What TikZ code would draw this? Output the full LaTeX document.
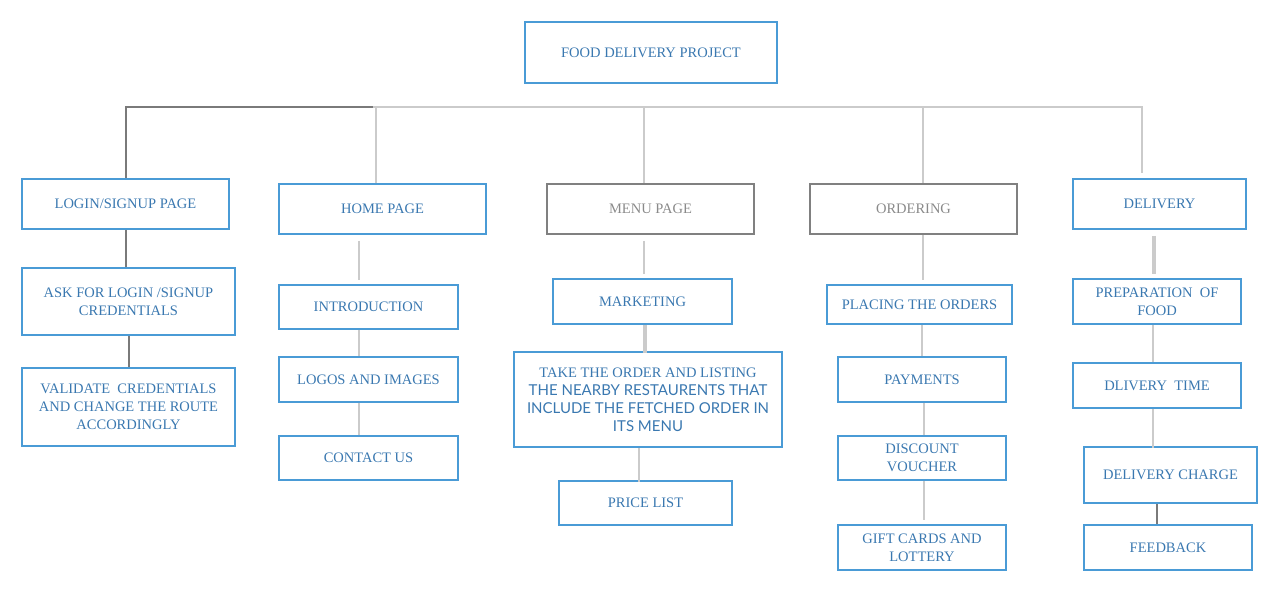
\documentclass[tikz,border=0pt]{standalone}
\usepackage{fontspec}
\setmainfont{Liberation Serif}
\newfontfamily\latof{Lato}
\definecolor{boxblue}{HTML}{4A9BD6}
\definecolor{txtblue}{HTML}{3A78B0}
\definecolor{boxgray}{HTML}{808080}
\definecolor{txtgray}{HTML}{8A8A8A}
\definecolor{lgray}{HTML}{CBCBCB}
\definecolor{dgray}{HTML}{7A7A7A}
\tikzset{
  box/.style={draw=boxblue, line width=2pt, text=txtblue, align=center, inner sep=0pt,
    font=\fontsize{14.5}{18}\selectfont},
  graybox/.style={box, draw=boxgray, text=txtgray},
  lconn/.style={draw=lgray, line width=2.5pt},
  dconn/.style={draw=dgray, line width=2pt},
}
\begin{document}
\begin{tikzpicture}[x=1pt,y=-1pt]
\useasboundingbox (0,0) rectangle (1280,593);
% top level
\node[box, minimum width=252, minimum height=61] (root) at (651,52.5) {FOOD DELIVERY PROJECT};
\node[box, minimum width=207, minimum height=50] (login) at (125.5,204) {LOGIN/SIGNUP PAGE};
\node[box, minimum width=207, minimum height=50] (home) at (382.5,209) {HOME PAGE};
\node[graybox, minimum width=207, minimum height=50] (menu) at (650.5,209) {MENU PAGE};
\node[graybox, minimum width=207, minimum height=50] (ordering) at (913.5,209) {ORDERING};
\node[box, minimum width=173, minimum height=50] (delivery) at (1159.5,204) {DELIVERY};
% login column
\node[box, minimum width=213, minimum height=67] (ask) at (128.5,301.5) {ASK FOR LOGIN /SIGNUP\\CREDENTIALS};
\node[box, minimum width=213, minimum height=78] (validate) at (128.5,407) {VALIDATE\ \ CREDENTIALS\\AND CHANGE THE ROUTE\\ACCORDINGLY};
% home column
\node[box, minimum width=179, minimum height=44] (intro) at (368.5,307) {INTRODUCTION};
\node[box, minimum width=179, minimum height=45] (logos) at (368.5,379.5) {LOGOS AND IMAGES};
\node[box, minimum width=179, minimum height=44] (contact) at (368.5,458) {CONTACT US};
% menu column
\node[box, minimum width=179, minimum height=45] (marketing) at (642.5,301.5) {MARKETING};
\node[box, minimum width=268, minimum height=95] (take) at (648,399.5)
  {\fontsize{14.5}{20}\selectfont TAKE THE ORDER AND LISTING\\
   \latof\fontsize{15}{20}\selectfont THE NEARBY RESTAURENTS THAT\\
   \latof\fontsize{15}{20}\selectfont INCLUDE THE FETCHED ORDER IN\\
   \latof\fontsize{15}{20}\selectfont ITS MENU};
\node[box, minimum width=173, minimum height=44] (price) at (645.5,503) {PRICE LIST};
% ordering column
\node[box, minimum width=185, minimum height=39] (placing) at (919.5,304.5) {PLACING THE ORDERS};
\node[box, minimum width=168, minimum height=45] (payments) at (922,379.5) {PAYMENTS};
\node[box, minimum width=168, minimum height=44] (discount) at (922,458) {DISCOUNT\\VOUCHER};
\node[box, minimum width=168, minimum height=45] (gift) at (922,547.5) {GIFT CARDS AND\\LOTTERY};
% delivery column
\node[box, minimum width=168, minimum height=45] (prep) at (1157,301.5) {PREPARATION\ \ OF\\FOOD};
\node[box, minimum width=168, minimum height=45] (dtime) at (1157,385.5) {DLIVERY\ \ TIME};
\node[box, minimum width=173, minimum height=56] (dcharge) at (1170.5,475) {DELIVERY CHARGE};
\node[box, minimum width=168, minimum height=45] (feedback) at (1168,547.5) {FEEDBACK};
% bus
\coordinate (bm) at (373,107);
\coordinate (br) at (1142,107);
\coordinate (dtop) at (1142,173);
\draw[dconn] (login.north) |- (bm);
\draw[lconn] (bm) -- (br) -- (dtop);
\draw[lconn] ([xshift=-6.5pt]home.north) -- ++(0,-77);
\draw[lconn] ([xshift=-6.5pt]menu.north) -- ++(0,-77);
\draw[lconn] ([xshift=9.5pt]ordering.north) -- ++(0,-77);
% login column
\draw[dconn] (login.south) -- (login.south |- ask.north);
\draw[dconn] (ask.south) -- (validate.north);
% home column
\draw[lconn] ([xshift=-23.5pt,yshift=-6pt]home.south) -- ++(0,39);
\draw[lconn] ([xshift=-9.5pt]intro.south) -- ([xshift=-9.5pt]logos.north);
\draw[lconn] ([xshift=-9.5pt]logos.south) -- ([xshift=-9.5pt]contact.north);
% menu column
\draw[lconn] ([xshift=-6.5pt,yshift=-6pt]menu.south) -- ++(0,33);
\draw[lconn, line width=4pt] ([xshift=2.5pt]marketing.south) -- ++(0,28);
\draw[lconn] ([xshift=-9pt]take.south) -- ++(0,34);
% ordering column
\draw[lconn] ([xshift=9.5pt]ordering.south) -- ++(0,45);
\draw[lconn, line width=1.5pt] ([xshift=2.5pt]placing.south) -- (payments.north);
\draw[lconn] ([xshift=2pt]payments.south) -- ([xshift=2pt]discount.north);
\draw[lconn] ([xshift=2pt]discount.south) -- ++(0,39);
% delivery column
\draw[lconn, line width=4pt] ([xshift=-5.5pt,yshift=-6pt]delivery.south) -- ++(0,38);
\draw[lconn] ([xshift=-4pt]prep.south) -- ([xshift=-4pt]dtime.north);
\draw[lconn] ([xshift=-4pt]dtime.south) -- ++(0,39);
\draw[dconn] ([xshift=-13.5pt]dcharge.south) -- ([xshift=-11pt]feedback.north);
\end{tikzpicture}
\end{document}
